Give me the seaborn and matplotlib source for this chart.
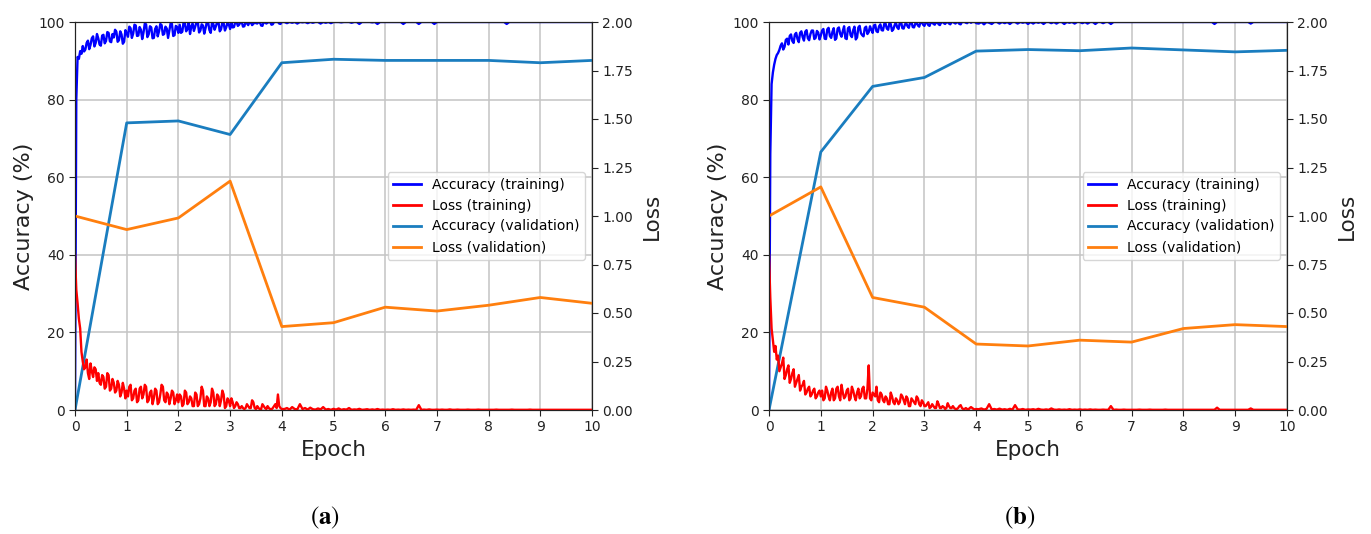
import numpy as np
import matplotlib
matplotlib.use("Agg")
import matplotlib.pyplot as plt
import seaborn as sns
from matplotlib.lines import Line2D

# ---------------- data ----------------
# training curves: recorded 40x per epoch for epochs 0-4, then 20x per epoch for epochs 4-10
early_per_epoch = 40
late_per_epoch = 20
early_epochs = 4

acc_train_a_early = [
    0,
    80.0, 91.0, 90.5, 92.5, 91.8, 93.8, 92.4, 92.9, 94.6, 95.2,
    93.0, 94.1, 95.8, 96.3, 93.7, 94.6, 96.9, 95.8, 94.2, 93.9,
    96.5, 96.7, 94.5, 95.1, 97.4, 97.2, 95.0, 94.8, 96.9, 96.0,
    98.0, 97.5, 94.9, 95.3, 97.6, 96.8, 94.4, 94.9, 97.9, 97.1,
    96.2, 98.8, 98.4, 95.9, 97.0, 99.3, 99.1, 96.4, 96.5, 98.7,
    98.0, 95.6, 97.3, 99.6, 99.4, 96.1, 96.8, 98.9, 98.6, 95.8,
    95.9, 98.2, 98.9, 96.3, 97.6, 99.5, 99.2, 96.7, 96.9, 98.8,
    98.3, 95.9, 97.8, 99.7, 99.5, 96.4, 96.6, 99.0, 98.7, 97.2,
    99.3, 97.2, 97.5, 99.9, 99.8, 97.6, 98.2, 100, 96.9, 98.9,
    99.6, 97.7, 98.8, 100, 100, 97.3, 97.8, 99.4, 99.1, 97.0,
    98.4, 100, 99.9, 97.9, 97.2, 99.8, 99.5, 98.0, 98.9, 100,
    100, 97.6, 98.1, 99.9, 99.7, 97.8, 98.6, 100, 99.4, 98.2,
    99.8, 98.6, 98.7, 100, 100, 99.0, 99.3, 100, 100, 98.8,
    98.9, 100, 99.7, 99.2, 100, 100, 99.2, 99.5, 100, 99.7,
    99.6, 100, 100, 99.1, 99.0, 100, 100, 99.6, 99.8, 100,
    100, 99.3, 99.4, 100, 100, 100, 100, 99.6, 99.5, 100,
]
acc_train_a_late = [
    100, 99.7, 100, 99.8, 100, 99.6, 100, 99.9, 100, 99.7, 100, 99.8, 100, 100, 99.6, 100, 99.8, 100, 99.7, 100,
    100, 100, 99.9, 100, 100, 100, 99.8, 100, 100, 99.5, 100, 100, 100, 100, 99.9, 100, 99.5, 100, 100, 100,
    100, 100, 100, 100, 100, 100, 99.5, 100, 100, 100, 100, 100, 99.5, 100, 100, 100, 100, 100, 99.5, 100,
    100, 100, 100, 100, 100, 100, 100, 100, 100, 100, 100, 100, 100, 100, 100, 100, 100, 100, 100, 100,
    100, 100, 100, 100, 100, 100, 99.5, 100, 100, 100, 100, 100, 100, 100, 100, 100, 100, 100, 100, 100,
    100, 100, 100, 100, 100, 100, 100, 100, 100, 100, 100, 100, 100, 100, 100, 100, 100, 100, 100, 100,
]
loss_train_a_early = [
    0.80,
    0.62, 0.55, 0.47, 0.42, 0.30, 0.25, 0.21, 0.22, 0.26, 0.19,
    0.16, 0.24, 0.20, 0.17, 0.22, 0.21, 0.15, 0.19, 0.14, 0.13,
    0.18, 0.17, 0.11, 0.12, 0.19, 0.18, 0.10, 0.11, 0.16, 0.14,
    0.09, 0.10, 0.15, 0.13, 0.07, 0.09, 0.14, 0.11, 0.06, 0.10,
    0.07, 0.12, 0.13, 0.05, 0.06, 0.10, 0.11, 0.04, 0.05, 0.11,
    0.12, 0.06, 0.08, 0.13, 0.12, 0.04, 0.05, 0.09, 0.10, 0.03,
    0.06, 0.11, 0.10, 0.03, 0.04, 0.08, 0.13, 0.12, 0.05, 0.04,
    0.09, 0.08, 0.03, 0.06, 0.10, 0.09, 0.03, 0.05, 0.08, 0.04,
    0.08, 0.07, 0.02, 0.03, 0.10, 0.09, 0.03, 0.04, 0.07, 0.06,
    0.02, 0.02, 0.09, 0.08, 0.02, 0.03, 0.06, 0.12, 0.10, 0.02,
    0.02, 0.07, 0.06, 0.02, 0.04, 0.11, 0.09, 0.02, 0.03, 0.08,
    0.07, 0.02, 0.05, 0.10, 0.08, 0.01, 0.02, 0.06, 0.05, 0.02,
    0.06, 0.04, 0.01, 0.02, 0.04, 0.03, 0.01, 0.01, 0.02, 0.01,
    0.005, 0.01, 0.03, 0.02, 0.01, 0.01, 0.05, 0.04, 0.01, 0.005,
    0.02, 0.01, 0.005, 0.004, 0.03, 0.02, 0.01, 0.005, 0.02, 0.01,
    0.005, 0.003, 0.01, 0.02, 0.03, 0.01, 0.08, 0.02, 0.01, 0.005,
]
loss_train_a_late = [
    0.005, 0.01, 0.002, 0.015, 0.005, 0.003, 0.03, 0.005, 0.01, 0.002, 0.012, 0.004, 0.002, 0.008, 0.003, 0.015, 0.002, 0.005, 0.001, 0.006,
    0.002, 0.008, 0.001, 0.004, 0.002, 0.01, 0.001, 0.003, 0.002, 0.006, 0.001, 0.002, 0.004, 0.001, 0.003, 0.001, 0.005, 0.001, 0.002, 0.001,
    0.002, 0.001, 0.004, 0.001, 0.002, 0.001, 0.003, 0.001, 0.002, 0.001, 0.002, 0.001, 0.025, 0.001, 0.002, 0.001, 0.003, 0.001, 0.001, 0.002,
    0.001, 0.002, 0.001, 0.001, 0.003, 0.001, 0.001, 0.002, 0.001, 0.001, 0.001, 0.002, 0.001, 0.001, 0.001, 0.002, 0.001, 0.001, 0.001, 0.001,
    0.001, 0.001, 0.002, 0.001, 0.001, 0.001, 0.001, 0.001, 0.002, 0.001, 0.001, 0.001, 0.001, 0.001, 0.001, 0.002, 0.001, 0.001, 0.001, 0.001,
    0.001, 0.001, 0.001, 0.001, 0.001, 0.001, 0.001, 0.001, 0.001, 0.001, 0.001, 0.001, 0.001, 0.001, 0.001, 0.001, 0.001, 0.001, 0.001, 0.001,
]
acc_train_b_early = [
    0,
    66.0, 84.0, 87.0, 89.0, 90.5, 91.5, 92.0, 92.8, 93.9, 94.5,
    92.9, 93.6, 95.4, 95.7, 94.2, 96.4, 96.8, 95.1, 94.6, 96.8,
    97.2, 95.6, 94.8, 97.2, 97.6, 96.1, 95.2, 97.5, 97.9, 95.8,
    95.3, 96.9, 97.8, 97.8, 95.6, 95.9, 97.7, 97.3, 95.5, 96.5,
    97.8, 98.2, 95.7, 95.6, 98.1, 98.5, 96.4, 95.9, 97.5, 98.4,
    95.4, 95.8, 98.3, 98.6, 96.9, 96.2, 97.7, 98.9, 95.8, 95.6,
    98.4, 98.7, 96.6, 96.1, 97.9, 98.8, 95.5, 96.0, 98.6, 99.0,
    97.1, 96.6, 96.3, 98.5, 98.8, 96.9, 97.4, 98.9, 98.0, 97.2,
    99.1, 99.3, 97.6, 97.4, 98.9, 99.4, 97.9, 97.8, 99.5, 99.6,
    98.3, 98.0, 99.7, 99.5, 97.7, 98.1, 99.2, 99.8, 98.6, 98.2,
    99.8, 100, 98.4, 98.3, 99.4, 99.7, 98.9, 98.5, 100, 100,
    98.7, 98.6, 99.6, 99.9, 99.1, 98.8, 100, 100, 99.3, 99.0,
    99.8, 100, 99.2, 99.0, 100, 100, 99.5, 99.3, 100, 100,
    99.4, 99.2, 100, 100, 99.7, 99.5, 100, 100, 99.6, 99.4,
    100, 100, 99.8, 99.6, 100, 100, 99.5, 99.4, 100, 100,
    100, 99.8, 99.7, 100, 100, 99.8, 100, 100, 100, 99.7,
]
acc_train_b_late = [
    99.6, 100, 99.4, 100, 99.8, 99.5, 100, 100, 99.6, 100, 99.7, 100, 99.5, 100, 100, 99.6, 100, 99.8, 100, 99.5,
    100, 99.6, 100, 99.8, 100, 99.5, 100, 100, 99.7, 100, 99.6, 100, 100, 99.5, 100, 99.8, 100, 99.6, 100, 100,
    99.7, 100, 99.6, 100, 100, 99.5, 100, 100, 99.7, 100, 100, 99.5, 100, 100, 100, 100, 100, 100, 100, 100,
    100, 100, 100, 100, 100, 100, 100, 100, 100, 100, 100, 100, 100, 100, 100, 100, 100, 100, 100, 100,
    100, 100, 100, 100, 100, 100, 100, 100, 100, 100, 100, 99.5, 100, 100, 100, 100, 100, 100, 100, 100,
    100, 100, 100, 100, 100, 99.6, 100, 100, 100, 100, 100, 100, 100, 100, 100, 100, 100, 100, 100, 100,
]
loss_train_b_early = [
    0.80,
    0.58, 0.42, 0.36, 0.30, 0.33, 0.26, 0.28, 0.20, 0.22, 0.24,
    0.27, 0.16, 0.18, 0.21, 0.23, 0.14, 0.16, 0.19, 0.21, 0.12,
    0.14, 0.16, 0.18, 0.10, 0.12, 0.13, 0.15, 0.08, 0.09, 0.11,
    0.12, 0.07, 0.08, 0.10, 0.11, 0.06, 0.07, 0.09, 0.10, 0.07,
    0.10, 0.05, 0.06, 0.12, 0.10, 0.07, 0.05, 0.09, 0.11, 0.05,
    0.06, 0.11, 0.12, 0.07, 0.05, 0.13, 0.09, 0.06, 0.07, 0.10,
    0.11, 0.05, 0.06, 0.12, 0.10, 0.07, 0.05, 0.09, 0.11, 0.06,
    0.07, 0.11, 0.12, 0.06, 0.06, 0.11, 0.23, 0.06, 0.05, 0.09,
    0.08, 0.07, 0.12, 0.05, 0.04, 0.09, 0.08, 0.05, 0.04, 0.07,
    0.06, 0.03, 0.03, 0.09, 0.07, 0.04, 0.03, 0.06, 0.05, 0.03,
    0.04, 0.08, 0.07, 0.05, 0.03, 0.07, 0.06, 0.02, 0.02, 0.06,
    0.05, 0.04, 0.03, 0.07, 0.06, 0.03, 0.02, 0.05, 0.04, 0.02,
    0.02, 0.03, 0.04, 0.01, 0.015, 0.03, 0.02, 0.01, 0.01, 0.045,
    0.03, 0.01, 0.01, 0.02, 0.015, 0.005, 0.01, 0.035, 0.02, 0.01,
    0.01, 0.02, 0.01, 0.005, 0.005, 0.01, 0.02, 0.025, 0.01, 0.005,
    0.005, 0.01, 0.005, 0.003, 0.01, 0.015, 0.01, 0.005, 0.003, 0.005,
]
loss_train_b_late = [
    0.004, 0.008, 0.002, 0.006, 0.03, 0.003, 0.005, 0.002, 0.007, 0.002, 0.004, 0.001, 0.006, 0.002, 0.025, 0.003, 0.002, 0.005, 0.001, 0.003,
    0.002, 0.004, 0.001, 0.006, 0.002, 0.001, 0.003, 0.001, 0.008, 0.002, 0.001, 0.003, 0.001, 0.002, 0.001, 0.004, 0.001, 0.002, 0.001, 0.003,
    0.001, 0.002, 0.001, 0.003, 0.001, 0.002, 0.001, 0.001, 0.002, 0.001, 0.001, 0.02, 0.001, 0.002, 0.001, 0.001, 0.002, 0.001, 0.001, 0.001,
    0.001, 0.001, 0.002, 0.001, 0.001, 0.001, 0.002, 0.001, 0.001, 0.001, 0.001, 0.001, 0.002, 0.001, 0.001, 0.001, 0.001, 0.001, 0.001, 0.001,
    0.001, 0.001, 0.001, 0.001, 0.001, 0.001, 0.001, 0.001, 0.001, 0.001, 0.001, 0.001, 0.012, 0.001, 0.001, 0.001, 0.001, 0.001, 0.001, 0.001,
    0.001, 0.001, 0.001, 0.001, 0.001, 0.008, 0.001, 0.001, 0.001, 0.001, 0.001, 0.001, 0.001, 0.001, 0.001, 0.001, 0.001, 0.001, 0.001, 0.001,
]

epochs_val = [0, 1, 2, 3, 4, 5, 6, 7, 8, 9, 10]
acc_val_a = [0, 74.0, 74.5, 71.0, 89.5, 90.4, 90.1, 90.1, 90.1, 89.5, 90.1]
loss_val_a = [1.00, 0.93, 0.99, 1.18, 0.43, 0.45, 0.53, 0.51, 0.54, 0.58, 0.55]
acc_val_b = [0, 66.5, 83.4, 85.7, 92.5, 92.9, 92.6, 93.3, 92.8, 92.3, 92.7]
loss_val_b = [1.00, 1.15, 0.58, 0.53, 0.34, 0.33, 0.36, 0.35, 0.42, 0.44, 0.43]

panel_labels = ["a", "b"]
legend_labels = ["Accuracy (training)", "Loss (training)",
                 "Accuracy (validation)", "Loss (validation)"]

# ---------------- style ----------------
plt.rcParams["font.family"] = ["DejaVu Sans"]
plt.rcParams["mathtext.fontset"] = "stix"

C_ACC_TR = "#0000ff"
C_LOSS_TR = "#ff0000"
C_ACC_VAL = "#1a7dbf"
C_LOSS_VAL = "#ff7f0e"
GRID = "#c4c4c4"


def train_epochs(n_early, n_late):
    early = np.arange(n_early) / early_per_epoch
    late = early_epochs + np.arange(1, n_late + 1) / late_per_epoch
    return np.concatenate([early, late])


fig = plt.figure(figsize=(13.71, 5.34), dpi=100)
positions = [[75 / 1371, 124 / 534, 517 / 1371, 388 / 534],
             [769 / 1371, 124 / 534, 518 / 1371, 388 / 534]]

panels = [
    (acc_train_a_early + acc_train_a_late, loss_train_a_early + loss_train_a_late,
     len(acc_train_a_early), len(acc_train_a_late), acc_val_a, loss_val_a),
    (acc_train_b_early + acc_train_b_late, loss_train_b_early + loss_train_b_late,
     len(acc_train_b_early), len(acc_train_b_late), acc_val_b, loss_val_b),
]

for pos, (acc_tr, loss_tr, ne, nl, acc_v, loss_v), lab in zip(positions, panels, panel_labels):
    ax = fig.add_axes(pos)
    ax2 = ax.twinx()
    x_tr = train_epochs(ne, nl)

    sns.lineplot(x=x_tr, y=acc_tr, ax=ax, color=C_ACC_TR, lw=1.7,
                 estimator=None, sort=False, legend=False)
    sns.lineplot(x=epochs_val, y=acc_v, ax=ax, color=C_ACC_VAL, lw=2.0,
                 estimator=None, sort=False, legend=False)
    sns.lineplot(x=x_tr, y=loss_tr, ax=ax2, color=C_LOSS_TR, lw=1.7,
                 estimator=None, sort=False, legend=False)
    sns.lineplot(x=epochs_val, y=loss_v, ax=ax2, color=C_LOSS_VAL, lw=2.0,
                 estimator=None, sort=False, legend=False)

    ax.set_xlim(0, 10)
    ax.set_ylim(0, 100)
    ax2.set_ylim(0, 2.0)
    ax.set_xticks(range(0, 11))
    ax.set_yticks(range(0, 101, 20))
    ax2.set_yticks(np.arange(0, 2.01, 0.25))
    ax2.set_yticklabels([f"{v:.2f}" for v in np.arange(0, 2.01, 0.25)])
    ax.grid(True, color=GRID, lw=1.1)
    ax.set_axisbelow(True)
    for a in (ax, ax2):
        a.tick_params(labelsize=10, colors="#222222", length=4)
        for s in a.spines.values():
            s.set_color("#222222")
    ax.set_xlabel("Epoch", fontsize=15.5, color="#222222", labelpad=4)
    ax.set_ylabel("Accuracy (%)", fontsize=16, color="#222222", labelpad=3)
    ax2.set_ylabel("Loss", fontsize=15.5, color="#222222", labelpad=6)

    handles = [Line2D([], [], color=c, lw=2)
               for c in (C_ACC_TR, C_LOSS_TR, C_ACC_VAL, C_LOSS_VAL)]
    ax2.legend(handles, legend_labels, loc="center right", fontsize=10,
               framealpha=0.8, handlelength=2.0)

    cx = pos[0] + pos[2] / 2 - 0.006
    fig.text(cx, 0.03, r"$(\mathbf{" + lab + r"})$", ha="center", va="center",
             fontsize=18)

fig.savefig("out.png", dpi=100)
